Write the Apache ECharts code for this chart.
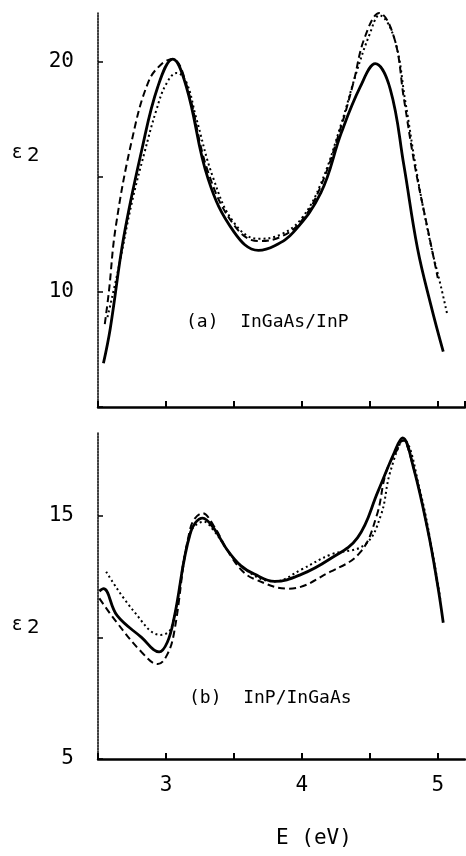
<!DOCTYPE html>
<html>
<head>
<meta charset="utf-8">
<script src="https://cdn.jsdelivr.net/npm/echarts@6/dist/echarts.min.js"></script>
<style>html,body{margin:0;padding:0;background:#fff;}#c{width:466px;height:856px;}</style>
</head>
<body>
<div id="c"></div>
<script>
// ---- data (E in eV, epsilon_2) ----
const topSolid = [[2.54,6.9],[2.59,8.4],[2.69,12.4],[2.82,16.1],[2.94,18.9],[3.05,20.1],[3.15,18.9],[3.31,14.9],[3.5,12.6],[3.68,11.8],[3.8,12.0],[3.94,12.6],[4.14,14.3],[4.29,16.9],[4.43,18.9],[4.54,19.9],[4.65,18.8],[4.75,15.5],[4.85,11.9],[4.95,9.4],[5.04,7.4]];
const topDashed = [[2.55,8.6],[2.58,10.0],[2.63,12.8],[2.75,16.6],[2.87,19.1],[2.97,19.9],[3.05,20.1],[3.15,19.0],[3.31,15.2],[3.5,12.9],[3.68,12.2],[3.85,12.4],[4.0,13.1],[4.14,14.6],[4.29,17.2],[4.38,19.1],[4.46,21.0],[4.57,22.1],[4.68,21.0],[4.75,18.4],[4.83,15.5],[4.93,12.6],[5.0,10.6]];
const topDotted = [[2.57,8.9],[2.65,11.0],[2.75,13.9],[2.84,16.0],[2.93,17.9],[3.0,19.0],[3.08,19.5],[3.15,19.1],[3.22,17.6],[3.35,14.9],[3.5,13.0],[3.68,12.3],[3.85,12.5],[4.0,13.2],[4.14,14.7],[4.29,17.3],[4.4,19.5],[4.5,21.2],[4.57,22.0],[4.68,21.0],[4.76,18.3],[4.85,15.0],[4.95,12.0],[5.02,10.3],[5.07,9.0]];

const botSolid = [[2.51,11.9],[2.54,12.0],[2.64,10.9],[2.82,10.0],[2.95,9.4],[3.01,9.8],[3.06,10.8],[3.18,14.3],[3.27,14.9],[3.35,14.5],[3.45,13.6],[3.55,12.95],[3.65,12.6],[3.8,12.3],[4.0,12.6],[4.2,13.2],[4.41,14.1],[4.56,16.0],[4.68,17.6],[4.74,18.2],[4.82,17.0],[4.93,14.3],[5.0,12.1],[5.04,10.6]];
const botDashed = [[2.51,11.6],[2.64,10.6],[2.82,9.4],[2.94,8.9],[3.01,9.3],[3.06,10.2],[3.18,14.5],[3.27,15.1],[3.35,14.6],[3.45,13.6],[3.55,12.8],[3.65,12.4],[3.9,12.0],[4.21,12.7],[4.43,13.5],[4.55,15.0],[4.62,16.8],[4.7,17.7],[4.74,18.1],[4.82,17.0],[4.93,14.3],[5.0,12.1]];
const botDotted = [[2.56,12.7],[2.76,11.1],[2.96,10.1],[3.04,10.4],[3.18,14.3],[3.28,14.75],[3.35,14.4],[3.55,12.95],[3.8,12.3],[4.0,12.8],[4.21,13.4],[4.46,13.8],[4.58,15.0],[4.65,16.8],[4.75,18.1],[4.87,16.0],[4.97,13.2],[5.02,11.5]];

const topYLabels = [10, 20];
const botYLabels = [5, 15];
const xLabels = [3, 4, 5];
const topPanelLabel = "(a)  InGaAs/InP";
const botPanelLabel = "(b)  InP/InGaAs";
const xName = "E (eV)";

const mono = "DejaVu Sans Mono";
const chart = echarts.init(document.getElementById('c'), null, {renderer: 'canvas'});

function xAxisCfg(gi, showLabels) {
  return {
    type: 'value', gridIndex: gi, min: 2.5, max: 5.2, interval: 0.5,
    axisLine: {show: true, onZero: false, lineStyle: {color: '#000', width: 2.5}},
    axisTick: {show: true, inside: true, length: 6, lineStyle: {color: '#000', width: 2}},
    splitLine: {show: false},
    axisLabel: {
      show: showLabels, margin: 16, color: '#000', fontFamily: mono, fontSize: 21,
      showMaxLabel: false,
      formatter: v => xLabels.some(l => Math.abs(l - v) < 1e-6) ? String(Math.round(v)) : ''
    }
  };
}
function yAxisCfg(gi, max, labels) {
  return {
    type: 'value', gridIndex: gi, min: 5, max: max, interval: 5,
    axisLine: {show: true, onZero: false, lineStyle: {color: '#000', width: 1.5, type: [2, 1]}},
    axisTick: {show: true, inside: true, length: 5, lineStyle: {color: '#000', width: 1.5}},
    splitLine: {show: false},
    axisLabel: {
      margin: 24, color: '#000', fontFamily: mono, fontSize: 21, showMaxLabel: false,
      formatter: v => labels.some(l => Math.abs(l - v) < 1e-6) ? String(v) : ''
    }
  };
}
function line(data, gi, type, width) {
  return {
    type: 'line', xAxisIndex: gi, yAxisIndex: gi, data: data, smooth: 0.4,
    showSymbol: false, symbol: 'none', silent: true, animation: false,
    lineStyle: {color: '#000', width: width, type: type}
  };
}
function epsLabel(x, y) {
  return [
    {type: 'text', left: x, top: y, style: {text: 'ε', font: '19px "DejaVu Sans"', fill: '#000'}},
    {type: 'text', left: x + 15, top: y + 2, style: {text: '2', font: '20px "DejaVu Sans"', fill: '#000'}}
  ];
}

chart.setOption({
  animation: false,
  backgroundColor: '#fff',
  grid: [
    {left: 98, top: 13, width: 367, height: 394},
    {left: 98, top: 433, width: 367, height: 326}
  ],
  xAxis: [xAxisCfg(0, false), xAxisCfg(1, true)],
  yAxis: [yAxisCfg(0, 22.1, topYLabels), yAxisCfg(1, 18.4, botYLabels)],
  series: [
    line(topSolid, 0, 'solid', 2.8),
    line(topDashed, 0, [7, 4], 2),
    line(topDotted, 0, [2, 3], 2),
    line(botSolid, 1, 'solid', 2.8),
    line(botDashed, 1, [7, 4], 2),
    line(botDotted, 1, [2, 3], 2)
  ],
  graphic: [
    {type: 'text', left: 186, top: 313, style: {text: topPanelLabel, font: '18px "DejaVu Sans Mono"', fill: '#000'}},
    {type: 'text', left: 189, top: 689, style: {text: botPanelLabel, font: '18px "DejaVu Sans Mono"', fill: '#000'}},
    {type: 'text', left: 276, top: 828, style: {text: xName, font: '21px "DejaVu Sans Mono"', fill: '#000'}}
  ].concat(epsLabel(12, 144), epsLabel(12, 616))
});
</script>
</body>
</html>
